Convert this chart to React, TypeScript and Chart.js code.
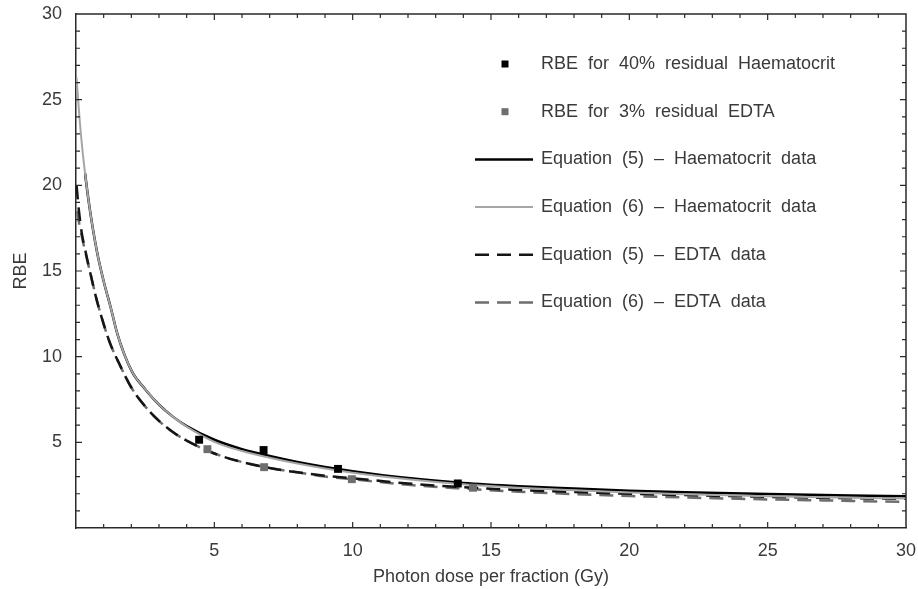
import React, { useEffect, useRef } from "react";
import { Chart, registerables } from "chart.js";

Chart.register(...registerables);

// ---- Data ----
const curveDose = [0.02, 0.1, 0.2, 0.35, 0.5, 0.75, 1, 1.25, 1.5, 2, 2.5, 3, 3.5, 4, 5, 6, 7, 8, 9, 10, 12, 14, 16, 18, 20, 22, 25, 28, 30];
const eq5HaemDose = [0.33, 0.35, 0.5, 0.75, 1, 1.25, 1.5, 2, 2.5, 3, 3.5, 4, 5, 6, 7, 8, 9, 10, 12, 14, 16, 18, 20, 22, 25, 28, 30];
const eq5Haem = [20.7, 20.4, 18.6, 16.2, 14.4, 12.9, 11.3, 9.2, 8.1, 7.2, 6.5, 5.95, 5.15, 4.6, 4.2, 3.85, 3.56, 3.32, 2.92, 2.63, 2.44, 2.3, 2.17, 2.08, 1.98, 1.9, 1.86];
const eq6Haem = [26.3, 24.5, 22.6, 20.4, 18.6, 16.2, 14.4, 12.9, 11.3, 9.2, 8.1, 7.2, 6.5, 5.92, 5.03, 4.49, 4.1, 3.76, 3.47, 3.23, 2.84, 2.55, 2.35, 2.2, 2.07, 1.97, 1.86, 1.77, 1.72];
const eq5Edta = [20.0, 18.6, 17.3, 16.1, 15.0, 13.3, 11.9, 10.7, 9.8, 8.2, 7.1, 6.25, 5.6, 5.1, 4.35, 3.85, 3.5, 3.25, 3.05, 2.9, 2.6, 2.38, 2.22, 2.1, 2.0, 1.92, 1.82, 1.74, 1.7];
const eq6Edta = [18.5, 17.9, 17.1, 16.0, 15.0, 13.3, 11.9, 10.7, 9.8, 8.2, 7.1, 6.25, 5.6, 5.1, 4.35, 3.85, 3.5, 3.25, 3.0, 2.85, 2.52, 2.3, 2.12, 1.98, 1.87, 1.78, 1.67, 1.58, 1.52];
const haemDose = [4.45, 6.78, 9.47, 13.8];
const haemRbe = [5.15, 4.55, 3.45, 2.6];
const edtaDose = [4.75, 6.8, 9.97, 14.35];
const edtaRbe = [4.6, 3.55, 2.85, 2.35];
const xTickLabels = [5, 10, 15, 20, 25, 30];
const yTickLabels = [5, 10, 15, 20, 25, 30];
const seriesLabels = [
  "Equation  (5)  \u2013  Haematocrit  data",
  "Equation  (6)  \u2013  Haematocrit  data",
  "Equation  (5)  \u2013  EDTA  data",
  "Equation  (6)  \u2013  EDTA  data",
  "RBE  for  40%  residual  Haematocrit",
  "RBE  for  3%  residual  EDTA",
];

const FONT = "'Liberation Sans', Arial, sans-serif";
const TEXT = "#3a3a3a";
const AXIS = "#2a2a2a";

const zip = (xs: number[], ys: number[]) => xs.map((x, i) => ({ x, y: ys[i] }));

const frameTicksPlugin = {
  id: "frameTicks",
  afterDatasetsDraw(chart: any) {
    const { ctx, chartArea } = chart;
    const { left, right, top, bottom } = chartArea;
    const xs = chart.scales.x;
    const ys = chart.scales.y;
    ctx.save();
    ctx.strokeStyle = AXIS;
    ctx.lineWidth = 1.5;
    ctx.beginPath();
    ctx.moveTo(left, top);
    ctx.lineTo(right, top);
    ctx.lineTo(right, bottom);
    ctx.stroke();
    ctx.lineWidth = 1.2;
    ctx.beginPath();
    xs.ticks.forEach((t: any) => {
      const v = t.value;
      if (v <= xs.min || v >= xs.max) return;
      const len = v % 5 === 0 ? 6 : 4;
      const px = xs.getPixelForValue(v);
      ctx.moveTo(px, bottom);
      ctx.lineTo(px, bottom - len);
      ctx.moveTo(px, top);
      ctx.lineTo(px, top + len);
    });
    ys.ticks.forEach((t: any) => {
      const v = t.value;
      if (v <= ys.min || v >= ys.max) return;
      const len = v % 5 === 0 ? 6 : 4;
      const py = ys.getPixelForValue(v);
      ctx.moveTo(left, py);
      ctx.lineTo(left + len, py);
      ctx.moveTo(right, py);
      ctx.lineTo(right - len, py);
    });
    ctx.stroke();
    ctx.restore();
  },
};

// legend order refers to dataset indices below
const legendOrder = [0, 1, 3, 2, 4, 5];

const legendPlugin = {
  id: "customLegend",
  afterDraw(chart: any) {
    const { ctx } = chart;
    const ds = chart.data.datasets;
    const lineX0 = 475;
    const lineX1 = 533;
    const markX = 505;
    const textX = 541;
    const y0 = 64;
    const dy = 47.7;
    ctx.save();
    ctx.font = `18px ${FONT}`;
    ctx.textBaseline = "middle";
    legendOrder.forEach((idx: number, i: number) => {
      const d = ds[idx];
      const y = y0 + i * dy;
      if (d.showLine === false) {
        ctx.fillStyle = d.backgroundColor;
        ctx.fillRect(markX - 3.5, y - 3.5, 7, 7);
      } else {
        ctx.strokeStyle = d.borderColor;
        ctx.lineWidth = d.borderWidth;
        ctx.setLineDash(d.borderDash || []);
        ctx.beginPath();
        ctx.moveTo(lineX0, y);
        ctx.lineTo(lineX1, y);
        ctx.stroke();
        ctx.setLineDash([]);
      }
      ctx.fillStyle = TEXT;
      ctx.fillText(d.label, textX, y);
    });
    ctx.restore();
  },
};

export default function App() {
  const ref = useRef<HTMLCanvasElement | null>(null);
  useEffect(() => {
    if (!ref.current) return;
    const lineDs = (label: string, xs: number[], ys: number[], color: string, width: number, dash: number[]) => ({
      label,
      data: zip(xs, ys),
      showLine: true,
      borderColor: color,
      backgroundColor: color,
      borderWidth: width,
      borderDash: dash,
      pointRadius: 0,
      cubicInterpolationMode: "monotone" as const,
      fill: false,
    });
    const chart = new Chart(ref.current, {
      type: "scatter",
      data: {
        // Chart.js paints the first dataset on top
        datasets: [
          {
            label: seriesLabels[4],
            data: zip(haemDose, haemRbe),
            showLine: false,
            pointStyle: "rect",
            pointRadius: 5.6,
            pointBorderWidth: 0,
            backgroundColor: "#000000",
            borderColor: "#000000",
          },
          {
            label: seriesLabels[5],
            data: zip(edtaDose, edtaRbe),
            showLine: false,
            pointStyle: "rect",
            pointRadius: 5.6,
            pointBorderWidth: 0,
            backgroundColor: "#6e6e6e",
            borderColor: "#6e6e6e",
          },
          lineDs(seriesLabels[1], curveDose, eq6Haem, "#a6a6a6", 2, []),
          lineDs(seriesLabels[0], eq5HaemDose, eq5Haem, "#000000", 2.5, []),
          lineDs(seriesLabels[2], curveDose, eq5Edta, "#151515", 2.5, [14, 8]),
          lineDs(seriesLabels[3], curveDose, eq6Edta, "#6e6e6e", 2.5, [14, 8]),
        ] as any,
      },
      options: {
        responsive: false,
        animation: false,
        layout: { padding: { left: 0, right: 12, top: 14, bottom: 0 } },
        plugins: { legend: { display: false }, tooltip: { enabled: false } },
        scales: {
          x: {
            type: "linear",
            min: 0,
            max: 30,
            grid: { display: false, drawTicks: false },
            border: { display: true, color: AXIS, width: 1.5 },
            ticks: {
              stepSize: 1,
              autoSkip: false,
              maxRotation: 0,
              padding: 12,
              color: TEXT,
              font: { family: FONT, size: 18 },
              callback: (v: any) => (xTickLabels.includes(Number(v)) ? String(v) : ""),
            },
            title: {
              display: true,
              text: "Photon dose per fraction (Gy)",
              color: TEXT,
              font: { family: FONT, size: 18 },
              padding: { top: 0, bottom: 1 },
            },
            afterFit: (s: any) => {
              s.height = 61;
              s.paddingLeft = 0;
              s.paddingRight = 0;
            },
          },
          y: {
            type: "linear",
            min: 0,
            max: 30,
            grid: { display: false, drawTicks: false },
            border: { display: true, color: AXIS, width: 1.5 },
            ticks: {
              stepSize: 1,
              autoSkip: false,
              padding: 14,
              color: TEXT,
              font: { family: FONT, size: 18 },
              callback: (v: any) => (yTickLabels.includes(Number(v)) ? String(v) : ""),
            },
            title: {
              display: true,
              text: "RBE",
              color: TEXT,
              font: { family: FONT, size: 18 },
              padding: { top: 10, bottom: 0 },
            },
            afterFit: (s: any) => {
              s.width = 76;
              s.paddingTop = 0;
              s.paddingBottom = 0;
            },
          },
        },
      } as any,
      plugins: [frameTicksPlugin, legendPlugin],
    });
    return () => chart.destroy();
  }, []);
  return (
    <div style={{ position: "fixed", left: 0, top: 0, width: 918, height: 589, background: "#fff" }}>
      <canvas ref={ref} width={918} height={589} style={{ width: 918, height: 589, display: "block" }} />
    </div>
  );
}
